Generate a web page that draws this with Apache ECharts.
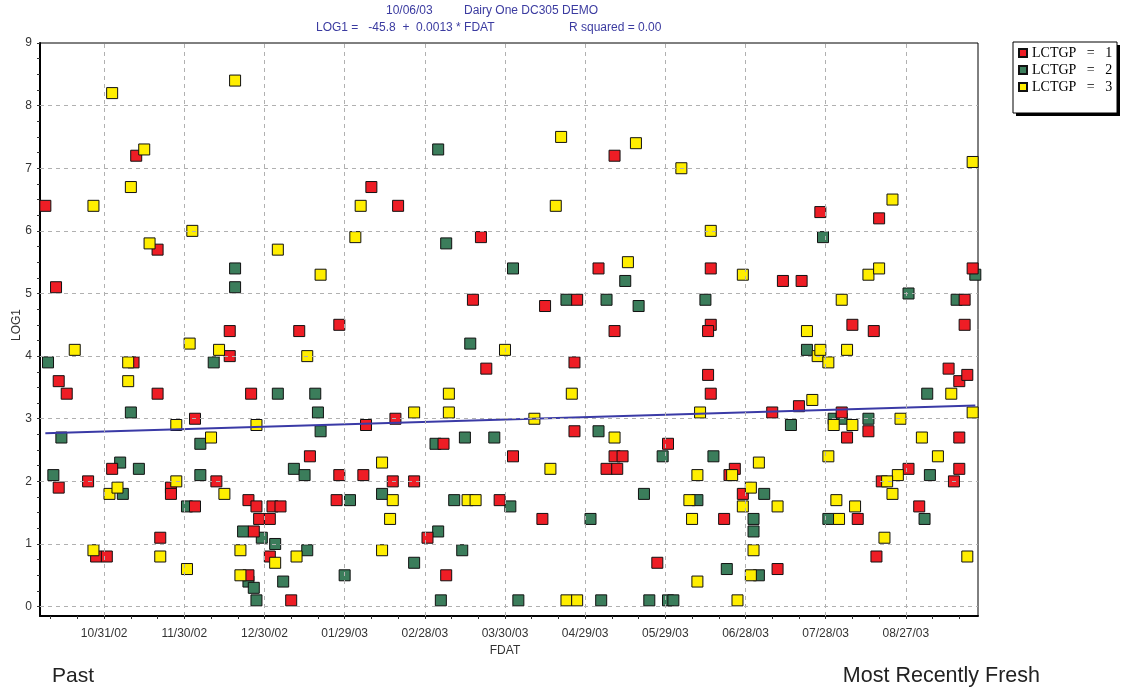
<!DOCTYPE html>
<html lang="en">
<head>
    <meta charset="UTF-8">
    <title>LOG1 vs FDAT</title>
    <style>
        html, body { margin: 0; padding: 0; background: #fff; }
        #chart { width: 1121px; height: 689px; }
    </style>
</head>
<body>
    <div id="chart"></div>
    <script src="https://cdn.jsdelivr.net/npm/echarts@6/dist/echarts.min.js"></script>
    <script>
        // FDAT is a serial day number (37560 = 10/31/02)
        var xTicks = [37560, 37590, 37620, 37650, 37680, 37710, 37740, 37770, 37800, 37830, 37860];
        var xTickLabels = ['10/31/02', '11/30/02', '12/30/02', '01/29/03', '02/28/03', '03/30/03',
            '04/29/03', '05/29/03', '06/28/03', '07/28/03', '08/27/03'];
        var yTicks = [0, 1, 2, 3, 4, 5, 6, 7, 8, 9];

        // regression line, read at the two ends of the plot
        var trendFdat = [37538, 37886];
        var trendLog1 = [2.77, 3.21];

        // LCTGP = 1  [FDAT, LOG1]
        var lctgp1 = [
            [37572, 7.2], [37538, 6.4], [37580, 5.7], [37542, 5.1], [37571, 3.9], [37543, 3.6],
            [37546, 3.4], [37580, 3.4], [37563, 2.2], [37554, 2.0], [37543, 1.9], [37581, 1.1],
            [37557, 0.8], [37561, 0.8], [37607, 4.4], [37607, 4.0], [37615, 3.4], [37594, 3.0],
            [37602, 2.0], [37585, 1.9], [37585, 1.8], [37594, 1.6], [37614, 1.7], [37617, 1.6],
            [37623, 1.6], [37626, 1.6], [37618, 1.4], [37622, 1.4], [37616, 1.2], [37622, 0.8],
            [37614, 0.5], [37660, 6.7], [37670, 6.4], [37648, 4.5], [37633, 4.4], [37658, 2.9],
            [37669, 3.0], [37637, 2.4], [37648, 2.1], [37657, 2.1], [37668, 2.0], [37647, 1.7],
            [37630, 0.1], [37701, 5.9], [37698, 4.9], [37703, 3.8], [37687, 2.6], [37713, 2.4],
            [37676, 2.0], [37708, 1.7], [37681, 1.1], [37688, 0.5], [37751, 7.2], [37745, 5.4],
            [37737, 4.9], [37725, 4.8], [37751, 4.4], [37736, 3.9], [37736, 2.8], [37751, 2.4],
            [37754, 2.4], [37748, 2.2], [37752, 2.2], [37724, 1.4], [37787, 5.4], [37787, 4.5],
            [37786, 4.4], [37786, 3.7], [37787, 3.4], [37771, 2.6], [37796, 2.2], [37794, 2.1],
            [37799, 1.8], [37792, 1.4], [37767, 0.7], [37828, 6.3], [37850, 6.2], [37814, 5.2],
            [37821, 5.2], [37840, 4.5], [37848, 4.4], [37820, 3.2], [37810, 3.1], [37836, 3.1],
            [37838, 2.7], [37846, 2.8], [37851, 2.0], [37842, 1.4], [37849, 0.8], [37812, 0.6],
            [37885, 5.4], [37882, 4.9], [37882, 4.5], [37876, 3.8], [37880, 3.6], [37883, 3.7],
            [37880, 2.7], [37861, 2.2], [37880, 2.2], [37878, 2.0], [37865, 1.6]
        ];

        // LCTGP = 2
        var lctgp2 = [
            [37539, 3.9], [37570, 3.1], [37544, 2.7], [37566, 2.3], [37573, 2.2], [37541, 2.1],
            [37567, 1.8], [37609, 5.4], [37609, 5.1], [37601, 3.9], [37625, 3.4], [37596, 2.6],
            [37596, 2.1], [37591, 1.6], [37612, 1.2], [37619, 1.1], [37624, 1.0], [37614, 0.4],
            [37616, 0.3], [37617, 0.1], [37639, 3.4], [37640, 3.1], [37641, 2.8], [37631, 2.2],
            [37635, 2.1], [37664, 1.8], [37652, 1.7], [37636, 0.9], [37627, 0.4], [37650, 0.5],
            [37685, 7.3], [37688, 5.8], [37713, 5.4], [37697, 4.2], [37684, 2.6], [37695, 2.7],
            [37706, 2.7], [37691, 1.7], [37712, 1.6], [37685, 1.2], [37676, 0.7], [37694, 0.9],
            [37686, 0.1], [37715, 0.1], [37733, 4.9], [37748, 4.9], [37755, 5.2], [37760, 4.8],
            [37745, 2.8], [37742, 1.4], [37746, 0.1], [37785, 4.9], [37769, 2.4], [37788, 2.4],
            [37762, 1.8], [37782, 1.7], [37803, 1.4], [37803, 1.2], [37793, 0.6], [37805, 0.5],
            [37764, 0.1], [37771, 0.1], [37773, 0.1], [37829, 5.9], [37823, 4.1], [37833, 3.0],
            [37836, 3.0], [37846, 3.0], [37817, 2.9], [37807, 1.8], [37831, 1.4], [37861, 5.0],
            [37879, 4.9], [37886, 5.3], [37868, 3.4], [37869, 2.1], [37867, 1.4]
        ];

        // LCTGP = 3
        var lctgp3 = [
            [37563, 8.2], [37575, 7.3], [37570, 6.7], [37556, 6.4], [37577, 5.8], [37549, 4.1],
            [37569, 3.9], [37569, 3.6], [37562, 1.8], [37565, 1.9], [37556, 0.9], [37581, 0.8],
            [37609, 8.4], [37593, 6.0], [37625, 5.7], [37592, 4.2], [37603, 4.1], [37587, 2.9],
            [37600, 2.7], [37587, 2.0], [37605, 1.8], [37611, 0.9], [37624, 0.7], [37591, 0.6],
            [37611, 0.5], [37617, 2.9], [37656, 6.4], [37654, 5.9], [37641, 5.3], [37636, 4.0],
            [37664, 2.3], [37668, 1.7], [37667, 1.4], [37632, 0.8], [37664, 0.9], [37710, 4.1],
            [37689, 3.4], [37676, 3.1], [37689, 3.1], [37696, 1.7], [37699, 1.7], [37731, 7.5],
            [37759, 7.4], [37729, 6.4], [37756, 5.5], [37735, 3.4], [37721, 3.0], [37751, 2.7],
            [37727, 2.2], [37733, 0.1], [37737, 0.1], [37776, 7.0], [37787, 6.0], [37799, 5.3],
            [37783, 3.1], [37805, 2.3], [37782, 2.1], [37795, 2.1], [37802, 1.9], [37779, 1.7],
            [37799, 1.6], [37780, 1.4], [37803, 0.9], [37782, 0.4], [37802, 0.5], [37797, 0.1],
            [37846, 5.3], [37850, 5.4], [37836, 4.9], [37823, 4.4], [37827, 4.0], [37828, 4.1],
            [37831, 3.9], [37838, 4.1], [37825, 3.3], [37833, 2.9], [37840, 2.9], [37831, 2.4],
            [37812, 1.6], [37834, 1.7], [37841, 1.6], [37835, 1.4], [37885, 7.1], [37855, 6.5],
            [37877, 3.4], [37885, 3.1], [37858, 3.0], [37866, 2.7], [37872, 2.4], [37857, 2.1],
            [37853, 2.0], [37855, 1.8], [37852, 1.1], [37883, 0.8]
        ];

        var xMin = 37536, xMax = 37887;
        var yMin = -0.15, yMax = 9;

        // small ticks: every 10 days on x, every quarter on y
        var xSmallTicks = [];
        for (var d = 37540; d <= xMax; d += 10) xSmallTicks.push(d);
        var ySmallTicks = [];
        for (var q = 0; q <= 36; q++) ySmallTicks.push(q / 4);

        var gridLines = [];
        xTicks.forEach(function (v) { gridLines.push({ xAxis: v }); });
        yTicks.slice(0, 9).forEach(function (v) { gridLines.push({ yAxis: v }); });

        var chart = echarts.init(document.getElementById('chart'), null, { renderer: 'canvas' });

        function dots(name, data, color) {
            return {
                name: name,
                type: 'scatter',
                symbol: 'rect',
                symbolSize: 11,
                data: data,
                itemStyle: { color: color, borderColor: '#111', borderWidth: 1, opacity: 1 },
                emphasis: { disabled: true }
            };
        }

        var blue = '#3b3ba0';
        var option = {
            animation: false,
            grid: {
                left: 40, right: 143, top: 43, bottom: 73,
                show: true, borderColor: '#000', borderWidth: 1, backgroundColor: '#fff'
            },
            xAxis: {
                type: 'value', min: xMin, max: xMax,
                axisLine: { onZero: false, lineStyle: { color: '#000', width: 2 } },
                axisTick: { customValues: xSmallTicks, length: 3, lineStyle: { color: '#333' } },
                axisLabel: {
                    customValues: xTicks, margin: 12, color: '#333', fontSize: 12,
                    fontFamily: 'Liberation Sans',
                    formatter: function (v) { return xTickLabels[xTicks.indexOf(v)] || ''; }
                },
                splitLine: { show: false }
            },
            yAxis: {
                type: 'value', min: yMin, max: yMax,
                axisLine: { onZero: false, lineStyle: { color: '#000', width: 2 } },
                axisTick: { customValues: ySmallTicks, length: 3, lineStyle: { color: '#333' } },
                axisLabel: {
                    customValues: yTicks, margin: 8, color: '#333', fontSize: 12,
                    fontFamily: 'Liberation Sans'
                },
                splitLine: { show: false }
            },
            legend: {
                orient: 'vertical', left: 1018, top: 46, padding: 0,
                itemWidth: 8, itemHeight: 8, itemGap: 3, icon: 'rect',
                data: ['LCTGP = 1', 'LCTGP = 2', 'LCTGP = 3'],
                formatter: function (n) { return n.replace(' = ', '   =   '); },
                textStyle: { fontFamily: 'Liberation Serif', fontSize: 14, lineHeight: 14, color: '#000' }
            },
            graphic: [
                { type: 'rect', shape: { x: 1016, y: 45, width: 104, height: 71 }, style: { fill: '#000' }, z: 1 },
                { type: 'rect', shape: { x: 1013, y: 42, width: 104, height: 71 }, style: { fill: '#fff', stroke: '#000', lineWidth: 1 }, z: 2 },
                { type: 'text', x: 386, y: 11, style: { text: '10/06/03', fill: blue, font: '12px "Liberation Sans"', verticalAlign: 'middle' } },
                { type: 'text', x: 464, y: 11, style: { text: 'Dairy One DC305 DEMO', fill: blue, font: '12px "Liberation Sans"', verticalAlign: 'middle' } },
                { type: 'text', x: 316, y: 28, style: { text: 'LOG1 =   -45.8  +  0.0013 * FDAT', fill: blue, font: '12px "Liberation Sans"', verticalAlign: 'middle' } },
                { type: 'text', x: 569, y: 28, style: { text: 'R squared = 0.00', fill: blue, font: '12px "Liberation Sans"', verticalAlign: 'middle' } },
                { type: 'text', x: 17, y: 325, rotation: Math.PI / 2, style: { text: 'LOG1', fill: '#333', font: '12px "Liberation Sans"', align: 'center', verticalAlign: 'middle' } },
                { type: 'text', x: 505, y: 651, style: { text: 'FDAT', fill: '#333', font: '12px "Liberation Sans"', align: 'center', verticalAlign: 'middle' } },
                { type: 'text', x: 52, y: 676, style: { text: 'Past', fill: '#222', font: '21px "Liberation Sans"', verticalAlign: 'middle' } },
                { type: 'text', x: 1040, y: 676, style: { text: 'Most Recently Fresh', fill: '#222', font: '21.5px "Liberation Sans"', align: 'right', verticalAlign: 'middle' } }
            ],
            series: [
                {
                    name: 'trend',
                    type: 'line',
                    data: [[trendFdat[0], trendLog1[0]], [trendFdat[1], trendLog1[1]]],
                    symbol: 'none',
                    lineStyle: { color: '#3a3aa6', width: 2 },
                    silent: true,
                    markLine: {
                        silent: true, symbol: 'none', label: { show: false },
                        lineStyle: { color: '#b0b0b0', width: 1, type: [4, 4] },
                        data: gridLines
                    }
                },
                dots('LCTGP = 2', lctgp2, '#3b7d5b'),
                dots('LCTGP = 1', lctgp1, '#ee1d25'),
                dots('LCTGP = 3', lctgp3, '#ffee00')
            ]
        };
        chart.setOption(option);
    </script>
</body>
</html>
